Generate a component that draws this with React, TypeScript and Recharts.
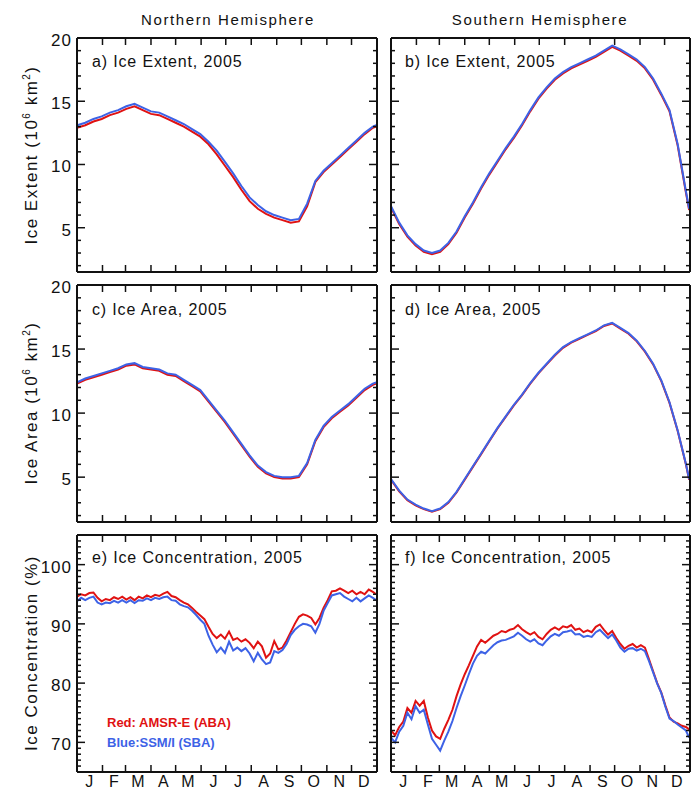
import React from 'react';
import { LineChart, Line, XAxis, YAxis } from 'recharts';

const FONT = '"Liberation Sans", Arial, Helvetica, sans-serif';
const RED = '#e01212';
const BLUE = '#3d62e6';
const INK = '#111';

const MONTH_STARTS = [32, 60, 91, 121, 152, 182, 213, 244, 274, 305, 335];
const MONTH_MIDS = [16, 46, 75, 106, 136, 167, 197, 228, 259, 289, 320, 350];
const MONTH_LABELS = ['J', 'F', 'M', 'A', 'M', 'J', 'J', 'A', 'S', 'O', 'N', 'D'];

const AREA_TICKS = [5, 10, 15, 20];
const AREA_MINOR = [2, 3, 4, 6, 7, 8, 9, 11, 12, 13, 14, 16, 17, 18, 19];
const CONC_TICKS = [70, 80, 90, 100];
const CONC_MINOR = [66, 67, 68, 69, 71, 72, 73, 74, 75, 76, 77, 78, 79, 81, 82, 83, 84, 85, 86, 87, 88, 89, 91, 92, 93, 94, 95, 96, 97, 98, 99, 101, 102, 103, 104];

const DAYS_10 = [1, 11, 21, 31, 41, 51, 61, 71, 81, 91, 101, 111, 121, 131, 141, 151, 161, 171, 181, 191, 201, 211, 221, 231, 241, 251, 261, 271, 281, 291, 301, 311, 321, 331, 341, 351, 361, 365];
const DAYS_5 = [1, 6, 11, 16, 21, 26, 31, 36, 41, 46, 51, 56, 61, 66, 71, 76, 81, 86, 91, 96, 101, 106, 111, 116, 121, 126, 131, 136, 141, 146, 151, 156, 161, 166, 171, 176, 181, 186, 191, 196, 201, 206, 211, 216, 221, 226, 231, 236, 241, 246, 251, 256, 261, 266, 271, 276, 281, 286, 291, 296, 301, 306, 311, 316, 321, 326, 331, 336, 341, 346, 351, 356, 361, 365];

// a) NH extent
const NH_EXT_RED = [12.9, 13.1, 13.4, 13.6, 13.9, 14.1, 14.4, 14.6, 14.3, 14.0, 13.9, 13.6, 13.3, 13.0, 12.6, 12.2, 11.6, 10.8, 9.9, 9.0, 8.0, 7.1, 6.5, 6.1, 5.8, 5.6, 5.4, 5.5, 6.7, 8.6, 9.4, 10.0, 10.6, 11.2, 11.8, 12.4, 12.9, 13.0];
const NH_EXT_BLUE = [13.1, 13.3, 13.6, 13.8, 14.1, 14.3, 14.6, 14.8, 14.5, 14.2, 14.1, 13.8, 13.5, 13.2, 12.8, 12.4, 11.8, 11.1, 10.2, 9.3, 8.3, 7.4, 6.8, 6.3, 6.0, 5.8, 5.6, 5.7, 6.9, 8.7, 9.5, 10.1, 10.7, 11.3, 11.9, 12.5, 13.0, 13.1];
// b) SH extent
const SH_EXT_RED = [6.6, 5.3, 4.3, 3.6, 3.1, 2.9, 3.1, 3.7, 4.6, 5.8, 6.9, 8.1, 9.2, 10.2, 11.2, 12.1, 13.1, 14.2, 15.2, 16.0, 16.7, 17.2, 17.6, 17.9, 18.2, 18.5, 18.9, 19.3, 19.0, 18.6, 18.2, 17.6, 16.7, 15.5, 14.2, 11.5, 7.8, 6.4];
const SH_EXT_BLUE = [6.7, 5.4, 4.4, 3.7, 3.2, 3.0, 3.2, 3.8, 4.7, 5.9, 7.0, 8.2, 9.3, 10.3, 11.3, 12.2, 13.2, 14.3, 15.3, 16.1, 16.8, 17.3, 17.7, 18.0, 18.3, 18.6, 19.0, 19.4, 19.1, 18.7, 18.3, 17.7, 16.8, 15.6, 14.3, 11.6, 7.9, 6.5];
// c) NH area
const NH_AREA_RED = [12.3, 12.6, 12.8, 13.0, 13.2, 13.4, 13.7, 13.8, 13.5, 13.4, 13.3, 13.0, 12.9, 12.5, 12.1, 11.7, 10.9, 10.1, 9.3, 8.4, 7.5, 6.6, 5.8, 5.3, 5.0, 4.9, 4.9, 5.0, 6.0, 7.8, 8.9, 9.6, 10.1, 10.6, 11.2, 11.8, 12.2, 12.3];
const NH_AREA_BLUE = [12.4, 12.7, 12.9, 13.1, 13.3, 13.5, 13.8, 13.9, 13.6, 13.5, 13.4, 13.1, 13.0, 12.6, 12.2, 11.8, 11.0, 10.2, 9.4, 8.5, 7.6, 6.7, 5.9, 5.4, 5.1, 5.0, 5.0, 5.1, 6.1, 7.9, 9.0, 9.7, 10.2, 10.7, 11.3, 11.9, 12.3, 12.4];
// d) SH area
const SH_AREA_RED = [4.8, 3.9, 3.2, 2.8, 2.5, 2.3, 2.5, 3.0, 3.8, 4.8, 5.8, 6.8, 7.8, 8.8, 9.7, 10.6, 11.4, 12.3, 13.1, 13.8, 14.5, 15.1, 15.5, 15.8, 16.1, 16.4, 16.8, 17.0, 16.6, 16.2, 15.6, 14.8, 13.8, 12.5, 10.8, 8.6, 6.0, 4.8];
const SH_AREA_BLUE = [4.85, 3.95, 3.25, 2.85, 2.55, 2.35, 2.55, 3.05, 3.85, 4.85, 5.85, 6.85, 7.85, 8.85, 9.75, 10.65, 11.45, 12.35, 13.15, 13.85, 14.55, 15.15, 15.55, 15.85, 16.15, 16.45, 16.85, 17.05, 16.65, 16.25, 15.65, 14.85, 13.85, 12.55, 10.85, 8.65, 6.05, 4.85];
// e) NH concentration
const NH_CONC_RED = [94.6, 95.0, 94.8, 95.2, 95.3, 94.4, 93.8, 94.2, 94.0, 94.5, 94.2, 94.6, 94.1, 94.5, 94.0, 94.6, 94.3, 94.8, 94.5, 94.9, 94.7, 95.1, 95.4, 94.7, 94.5, 94.0, 93.6, 93.3, 92.7, 92.0, 91.4, 90.8, 89.5, 88.3, 87.6, 88.2, 87.5, 88.7, 87.3, 87.6, 87.0, 87.4, 86.8, 85.9, 87.0, 86.2, 84.3, 85.0, 87.1, 85.7, 86.0, 87.2, 88.6, 90.0, 91.2, 91.6, 91.4, 91.0, 89.9, 91.0, 92.7, 94.0, 95.5, 95.6, 96.0, 95.6, 95.2, 95.6, 95.0, 95.4, 95.0, 95.8, 95.4, 95.0];
const NH_CONC_BLUE = [93.8, 94.4, 94.0, 94.4, 94.6, 93.6, 93.3, 93.6, 93.5, 93.9, 93.6, 94.0, 93.6, 94.0, 93.5, 94.0, 93.9, 94.3, 94.0, 94.4, 94.2, 94.5, 94.6, 94.0, 93.9, 93.3, 93.0, 92.8, 92.2, 91.5, 90.7, 90.0, 88.0, 86.5, 85.2, 86.0, 85.1, 87.0, 85.5, 86.0, 85.4, 85.9, 85.0, 83.7, 85.1, 84.0, 83.2, 83.5, 85.4, 85.1, 85.6, 86.6, 88.1, 89.0, 89.6, 90.0, 89.9, 89.6, 88.5, 90.0, 92.2, 93.5, 94.8, 95.0, 95.2, 94.6, 94.2, 93.8, 94.4, 93.8, 94.3, 94.8, 94.4, 94.0];
// f) SH concentration
const SH_CONC_RED = [72.0, 71.2, 72.6, 73.5, 75.8, 75.0, 77.0, 76.2, 77.0, 74.2, 72.0, 71.0, 70.6, 72.3, 73.8, 75.5, 77.8, 79.8, 81.5, 83.0, 84.6, 86.2, 87.3, 86.8, 87.4, 88.0, 88.3, 88.8, 88.6, 89.0, 89.2, 89.8, 89.1, 88.6, 88.2, 88.6, 87.8, 87.4, 88.3, 89.0, 89.4, 89.0, 89.6, 89.4, 89.8, 89.0, 89.2, 88.6, 88.9, 88.6, 89.5, 89.9, 89.0, 88.2, 88.8, 87.6, 86.6, 85.8, 86.3, 86.6, 86.0, 86.4, 86.0, 84.0, 82.0, 80.0, 78.4, 76.2, 74.2, 73.5, 73.2, 72.8, 72.6, 72.2];
const SH_CONC_BLUE = [70.8, 70.0, 71.8, 72.8, 75.0, 73.9, 76.1, 75.0, 75.5, 73.0, 70.6, 69.6, 68.6, 70.3, 71.8, 73.6, 75.8, 77.8, 79.6, 81.5, 83.3, 84.6, 85.3, 85.0, 85.7, 86.4, 86.9, 87.2, 87.3, 87.6, 87.9, 88.5, 88.0, 87.4, 87.0, 87.4, 86.7, 86.4, 87.2, 87.9, 88.3, 88.0, 88.6, 88.7, 88.9, 88.2, 88.3, 87.8, 88.0, 87.8, 88.6, 89.0, 88.3, 87.6, 88.2, 87.2, 86.0, 85.3, 85.8, 85.9, 85.5, 85.8, 85.4, 83.7, 81.8, 79.9, 78.3, 76.0, 74.0, 73.6, 73.0, 72.5, 72.0, 70.8];

const ML = 60, MT = 14, MR = 4, MB = 26;
const TINY = 0.01;

// custom tick marks drawn inward from the frame
function makeTick(dx: number, dy: number, label: boolean) {
  return (props: any) => {
    const { x, y, payload } = props;
    return (
      <g>
        <line x1={x} y1={y} x2={x + dx} y2={y + dy} stroke={INK} strokeWidth={1.5} />
        {label && (
          <text x={x - 5} y={y + 2} dy="0.35em" textAnchor="end" fontSize={17}
            fontFamily={FONT} letterSpacing={1} fill={INK}>{payload.value}</text>
        )}
      </g>
    );
  };
}

type PanelProps = {
  x: number; y: number; w: number; h: number;
  days: number[]; red: number[]; blue: number[];
  domain: [number, number]; major: number[]; minor: number[];
  yLabels: boolean; xLabels: boolean;
};

function Panel(p: PanelProps) {
  const data = p.days.map((d, i) => ({ d, r: p.red[i], b: p.blue[i] }));
  const axisLine = { stroke: INK, strokeWidth: 2 };
  return (
    <div style={{ position: 'absolute', left: p.x - ML, top: p.y - MT }}>
      <LineChart width={p.w + ML + MR} height={p.h + MT + MB} data={data}
        margin={{ left: ML, top: MT, right: MR, bottom: MB }}>
        <XAxis xAxisId="b" dataKey="d" type="number" domain={[1, 366]} allowDataOverflow
          ticks={MONTH_STARTS} interval={0} tickSize={0} tickMargin={0} height={TINY}
          axisLine={axisLine} tickLine={false} tick={makeTick(0, -7, false)} />
        {p.xLabels && (
          <XAxis xAxisId="lab" dataKey="d" type="number" domain={[1, 366]} allowDataOverflow
            ticks={MONTH_MIDS} interval={0} tickSize={0} tickMargin={4} height={TINY}
            axisLine={false} tickLine={false}
            tickFormatter={(v: number) => MONTH_LABELS[MONTH_MIDS.indexOf(v)]}
            tick={{ fill: INK, fontSize: 16, fontFamily: FONT }} />
        )}
        <XAxis xAxisId="t" orientation="top" dataKey="d" type="number" domain={[1, 366]} allowDataOverflow
          ticks={MONTH_STARTS} interval={0} tickSize={0} tickMargin={0} height={TINY}
          axisLine={axisLine} tickLine={false} tick={makeTick(0, 7, false)} />
        <YAxis yAxisId="l" type="number" domain={p.domain} allowDataOverflow ticks={p.major} interval={0}
          tickSize={0} tickMargin={0} width={TINY} axisLine={axisLine} tickLine={false}
          tick={makeTick(8, 0, p.yLabels)} />
        <YAxis yAxisId="lm" type="number" domain={p.domain} allowDataOverflow ticks={p.minor} interval={0}
          tickSize={0} tickMargin={0} width={TINY} axisLine={false} tickLine={false}
          tick={makeTick(4, 0, false)} />
        <YAxis yAxisId="r" orientation="right" type="number" domain={p.domain} allowDataOverflow ticks={p.major} interval={0}
          tickSize={0} tickMargin={0} width={TINY} axisLine={axisLine} tickLine={false}
          tick={makeTick(-8, 0, false)} />
        <YAxis yAxisId="rm" orientation="right" type="number" domain={p.domain} allowDataOverflow ticks={p.minor} interval={0}
          tickSize={0} tickMargin={0} width={TINY} axisLine={false} tickLine={false}
          tick={makeTick(-4, 0, false)} />
        <Line xAxisId="b" yAxisId="l" type="linear" dataKey="r" stroke={RED} strokeWidth={2}
          dot={false} isAnimationActive={false} />
        <Line xAxisId="b" yAxisId="l" type="linear" dataKey="b" stroke={BLUE} strokeWidth={2}
          dot={false} isAnimationActive={false} />
      </LineChart>
    </div>
  );
}

const LX = 77, RX = 391, PW = 300, RW = 299;
const ROWS = [38, 285, 535];
const PH = [234, 237, 237];

function YTitle({ cy, children }: { cy: number; children: React.ReactNode }) {
  return (
    <text transform={`translate(37, ${cy}) rotate(-90)`} textAnchor="middle" fontSize={17}
      fontFamily={FONT} letterSpacing={1.5} fill={INK}>{children}</text>
  );
}

function PTitle({ x, y, t }: { x: number; y: number; t: string }) {
  return <text x={x} y={y} fontSize={16} fontFamily={FONT} letterSpacing={0.85} fill={INK}>{t}</text>;
}

export default function App() {
  return (
    <div style={{ position: 'absolute', left: 0, top: 0, width: 691, height: 792, background: '#fff', overflow: 'hidden' }}>
      <Panel x={LX} y={ROWS[0]} w={PW} h={PH[0]} days={DAYS_10} red={NH_EXT_RED} blue={NH_EXT_BLUE}
        domain={[1.5, 20]} major={AREA_TICKS} minor={AREA_MINOR} yLabels xLabels={false} />
      <Panel x={RX} y={ROWS[0]} w={RW} h={PH[0]} days={DAYS_10} red={SH_EXT_RED} blue={SH_EXT_BLUE}
        domain={[1.5, 20]} major={AREA_TICKS} minor={AREA_MINOR} yLabels={false} xLabels={false} />
      <Panel x={LX} y={ROWS[1]} w={PW} h={PH[1]} days={DAYS_10} red={NH_AREA_RED} blue={NH_AREA_BLUE}
        domain={[1.5, 20]} major={AREA_TICKS} minor={AREA_MINOR} yLabels xLabels={false} />
      <Panel x={RX} y={ROWS[1]} w={RW} h={PH[1]} days={DAYS_10} red={SH_AREA_RED} blue={SH_AREA_BLUE}
        domain={[1.5, 20]} major={AREA_TICKS} minor={AREA_MINOR} yLabels={false} xLabels={false} />
      <Panel x={LX} y={ROWS[2]} w={PW} h={PH[2]} days={DAYS_5} red={NH_CONC_RED} blue={NH_CONC_BLUE}
        domain={[65, 105]} major={CONC_TICKS} minor={CONC_MINOR} yLabels xLabels />
      <Panel x={RX} y={ROWS[2]} w={RW} h={PH[2]} days={DAYS_5} red={SH_CONC_RED} blue={SH_CONC_BLUE}
        domain={[65, 105]} major={CONC_TICKS} minor={CONC_MINOR} yLabels={false} xLabels />
      <svg width={691} height={792} style={{ position: 'absolute', left: 0, top: 0, pointerEvents: 'none' }}>
        <text x={228} y={25} textAnchor="middle" fontSize={15} fontFamily={FONT} letterSpacing={1.6} fill={INK}>Northern Hemisphere</text>
        <text x={540} y={25} textAnchor="middle" fontSize={15} fontFamily={FONT} letterSpacing={1.6} fill={INK}>Southern Hemisphere</text>
        <PTitle x={92} y={ROWS[0] + 29} t="a) Ice Extent, 2005" />
        <PTitle x={405} y={ROWS[0] + 29} t="b) Ice Extent, 2005" />
        <PTitle x={92} y={ROWS[1] + 30} t="c) Ice Area, 2005" />
        <PTitle x={405} y={ROWS[1] + 30} t="d) Ice Area, 2005" />
        <PTitle x={92} y={ROWS[2] + 28} t="e) Ice Concentration, 2005" />
        <PTitle x={405} y={ROWS[2] + 28} t="f) Ice Concentration, 2005" />
        <YTitle cy={155}>Ice Extent (10<tspan dy={-7} fontSize={10}>6</tspan><tspan dy={7}> km</tspan><tspan dy={-7} fontSize={10}>2</tspan><tspan dy={7}>)</tspan></YTitle>
        <YTitle cy={403}>Ice Area (10<tspan dy={-7} fontSize={10}>6</tspan><tspan dy={7}> km</tspan><tspan dy={-7} fontSize={10}>2</tspan><tspan dy={7}>)</tspan></YTitle>
        <YTitle cy={653}>Ice Concentration (%)</YTitle>
        <text x={107} y={727} fontSize={13} fontWeight="bold" fontFamily={FONT} fill={RED}>Red: AMSR-E (ABA)</text>
        <text x={107} y={747} fontSize={13} fontWeight="bold" fontFamily={FONT} fill={BLUE}>Blue:SSM/I (SBA)</text>
      </svg>
    </div>
  );
}
